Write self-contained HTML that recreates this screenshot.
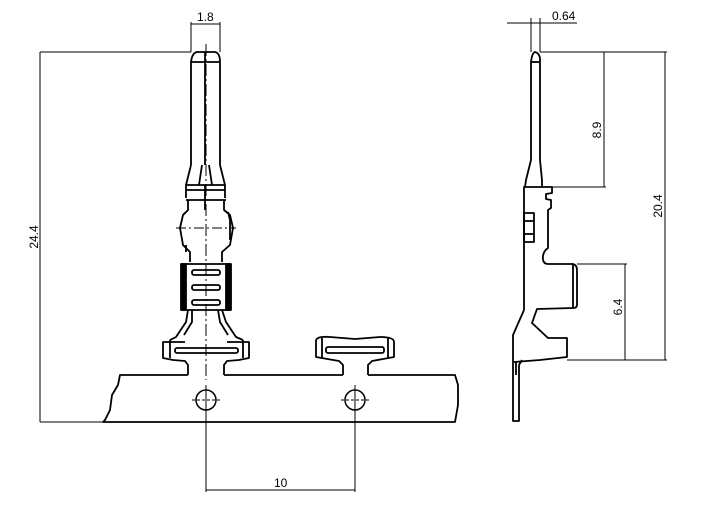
<!DOCTYPE html>
<html><head><meta charset="utf-8"><style>
html,body{margin:0;padding:0;background:#fff;}
svg{display:block}
text{font-family:"Liberation Sans",sans-serif;font-size:12px;fill:#000}
</style></head><body>
<svg width="711" height="530" viewBox="0 0 711 530" xmlns="http://www.w3.org/2000/svg">
<g fill="none" stroke="#000" stroke-width="1">
<line x1="40" y1="52" x2="191" y2="52"/>
<line x1="40" y1="422" x2="105" y2="422"/>
<line x1="40" y1="52" x2="40" y2="422"/>
<line x1="191" y1="22" x2="191" y2="52"/>
<line x1="220" y1="22" x2="220" y2="52"/>
<line x1="191" y1="24" x2="220" y2="24"/>
<line x1="206" y1="385" x2="206" y2="492"/>
<line x1="355" y1="385" x2="355" y2="492"/>
<line x1="206" y1="490" x2="355" y2="490"/>
<line x1="206" y1="44" x2="206" y2="380" stroke-dasharray="12,3,2,3"/>
<line x1="176" y1="228" x2="236" y2="228" stroke-dasharray="10,3,2,3"/>
</g>
<g fill="none" stroke="#000" stroke-width="1.8" stroke-linejoin="round">
<path d="M191,165 L191,62 Q192,53 197,52 L215,52 Q220,53 220,62 L220,165"/>
<line x1="191" y1="62" x2="220" y2="62"/>
<line x1="205" y1="52" x2="205" y2="165"/>
<path d="M191,165 L186,185 L186,198 M220,165 L225,185 L225,198"/>
<path d="M202,165 L199,185 M209,165 L212,185"/>
<line x1="186" y1="185" x2="225" y2="185"/>
<line x1="186" y1="190" x2="225" y2="190"/>
<line x1="186" y1="200" x2="226" y2="200"/>
<line x1="205" y1="185" x2="205" y2="210"/>
<path d="M188,200 L188,210 L183,215 L180,228 L183,245 L190,252 L190,262"/>
<path d="M224,200 L224,210 L230,215 L233,228 L230,245 L222,252 L222,262"/>
<path d="M183,215 L186,212 M186,245 L186,252"/>
<path d="M228,212 L230,220 L230,240"/>
<rect x="182" y="264" width="48" height="46"/>
<rect x="181" y="264" width="5" height="46" fill="#000"/>
<rect x="226" y="264" width="5" height="46" fill="#000"/>
<rect x="192" y="270" width="28" height="5" rx="2"/>
<rect x="192" y="285" width="28" height="5" rx="2"/>
<rect x="192" y="300" width="28" height="5" rx="2"/>
<path d="M188,310 L186,322 L176,337 L170,340 M222,310 L226,322 L236,337 L243,340"/>
<path d="M192,310 L192,322 L184,335 M218,310 L220,322 L228,335"/>
<path d="M185,342 L163,342 L163,358 L173,360 L185,361 L188,365 L188,375"/>
<path d="M227,342 L249,342 L249,358 L239,360 L227,361 L224,365 L224,375"/>
<path d="M170,340 L170,358 M243,340 L243,358"/>
<rect x="175" y="348" width="63" height="5" rx="2"/>
<path d="M316,340 Q318,336 330,337 L355,339 L380,337 Q394,337 394,342 L394,357 L372,361 L368,365 L368,375"/>
<path d="M316,340 L316,357 L339,361 L343,365 L343,375"/>
<path d="M322,338 L322,358 M388,338 L388,358"/>
<rect x="326" y="347" width="58" height="6" rx="2"/>
<path d="M188,375 L120,375 L118,385 L112,395 L110,410 L105,420 L103,422 L455,422 L458,405 L458,385 L455,375 L368,375"/>
<line x1="224" y1="375" x2="343" y2="375"/>
<circle cx="206" cy="400" r="10" stroke-width="1.5"/>
<circle cx="355" cy="400" r="10" stroke-width="1.5"/>
</g>
<g stroke="#000" stroke-width="1" stroke-dasharray="3,2">
<line x1="192" y1="400" x2="220" y2="400"/>
<line x1="341" y1="400" x2="369" y2="400"/>
<line x1="355" y1="386" x2="355" y2="414"/>
</g>
<g fill="none" stroke="#000" stroke-width="1">
<line x1="507" y1="23" x2="577" y2="23"/>
<line x1="531" y1="18" x2="531" y2="52"/>
<line x1="540" y1="18" x2="540" y2="52"/>
<line x1="540" y1="52" x2="667" y2="52"/>
<line x1="552" y1="187" x2="606" y2="187"/>
<line x1="604" y1="52" x2="604" y2="187"/>
<line x1="665" y1="52" x2="665" y2="360"/>
<line x1="577" y1="264" x2="627" y2="264"/>
<line x1="625" y1="264" x2="625" y2="360"/>
<line x1="567" y1="360" x2="667" y2="360"/>
</g>
<g fill="none" stroke="#000" stroke-width="1.8" stroke-linejoin="round">
<path d="M531,160 L531,62 Q532,53 535,52 Q539,53 540,58 L540,160"/>
<line x1="531" y1="62" x2="540" y2="62"/>
<path d="M531,160 L526,180 L525,187 M540,160 L542,180 L542,187"/>
<path d="M524,310 L524,187 L552,187 L552,193 L546,194 L546,199 L551,200 L551,208 L548,210 L548,248 Q542,252 543,260 Q544,264 548,264 L573,264 L573,308 L537,309 L532,323 L548,338 L567,338 L567,357 L540,360 L514,362"/>
<path d="M524,310 L513,335 L513,362"/>
<path d="M573,264 Q577,265 577,270 L577,305 Q577,308 573,308"/>
<rect x="524" y="213" width="10" height="29"/>
<line x1="524" y1="221" x2="534" y2="221"/>
<line x1="524" y1="234" x2="534" y2="234"/>
<path d="M513,362 L513,421 L519,421 L519,365 L522,360"/>
<line x1="516" y1="362" x2="516" y2="375"/>
</g>
<text x="197" y="21">1.8</text>
<text x="552" y="20">0.64</text>
<text x="274" y="487">10</text>
<text transform="translate(38,237) rotate(-90)" text-anchor="middle">24.4</text>
<text transform="translate(601,130) rotate(-90)" text-anchor="middle">8.9</text>
<text transform="translate(662,206) rotate(-90)" text-anchor="middle">20.4</text>
<text transform="translate(622,307) rotate(-90)" text-anchor="middle">6.4</text>
</svg>
</body></html>
